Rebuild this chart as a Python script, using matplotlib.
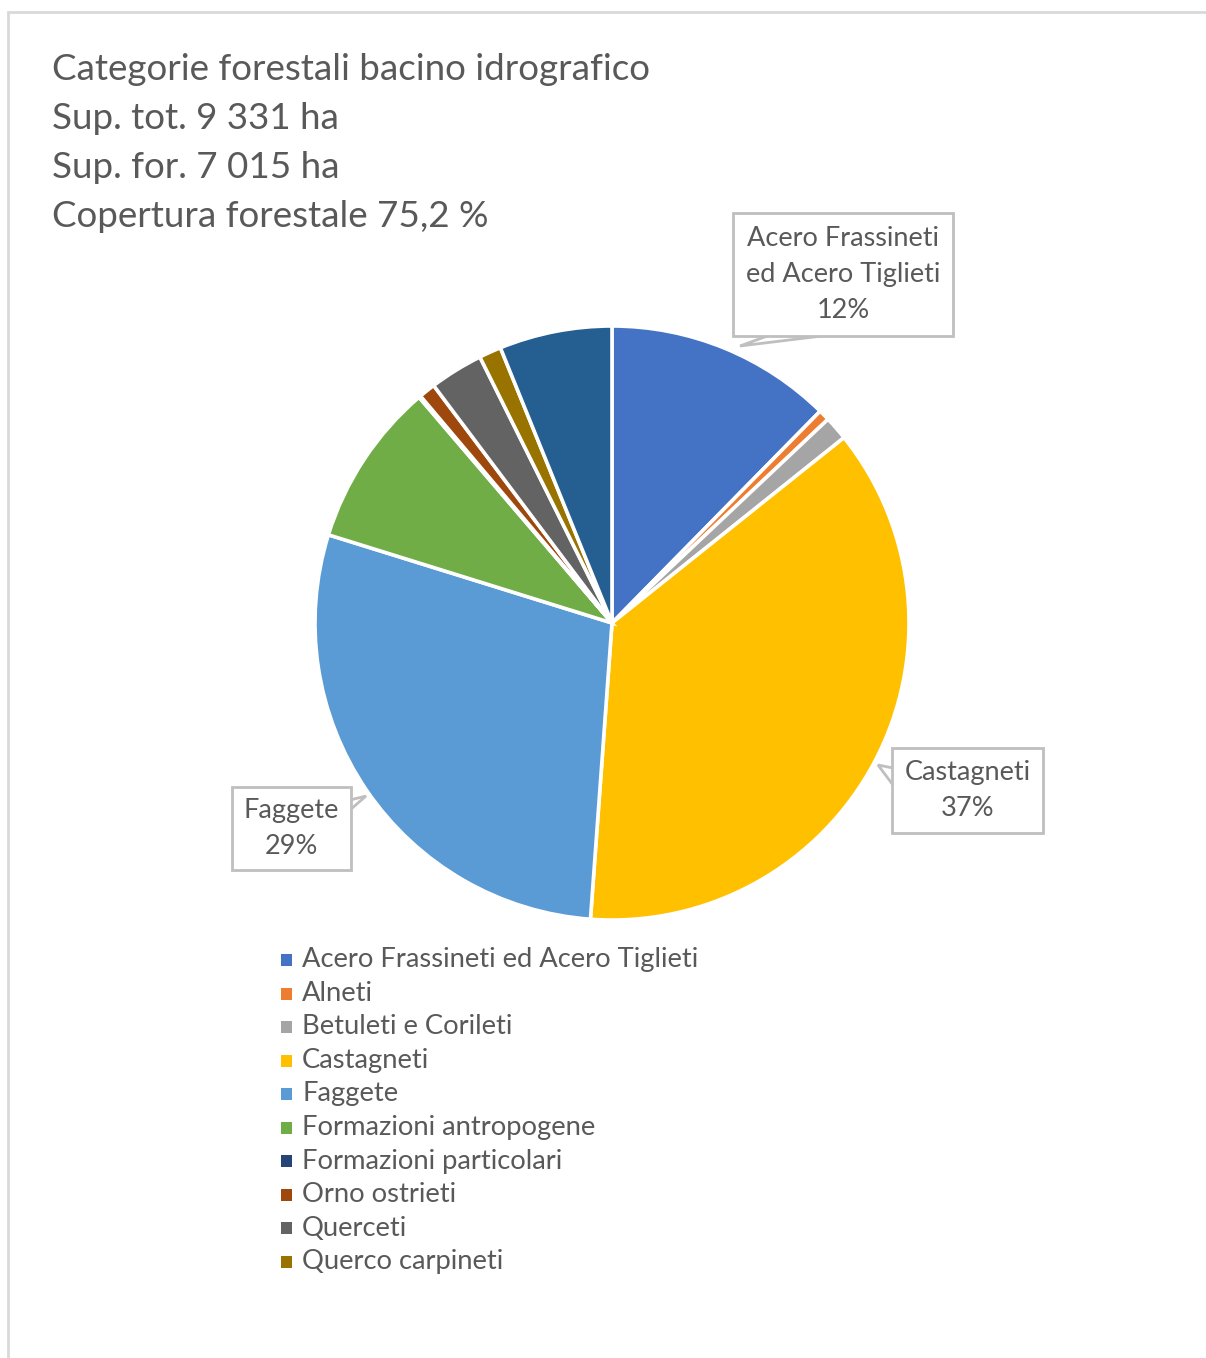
import numpy as np
import matplotlib.pyplot as plt
from matplotlib.patches import Rectangle, Polygon

plt.rcParams['font.family'] = ['Lato', 'DejaVu Sans']

# data (percent of forest area), clockwise from 12 o'clock
categories = ["Acero Frassineti ed Acero Tiglieti", "Alneti", "Betuleti e Corileti",
              "Castagneti", "Faggete", "Formazioni antropogene",
              "Formazioni particolari", "Orno ostrieti", "Querceti",
              "Querco carpineti", ""]
values = [12.3, 0.6, 1.3, 36.7, 28.5, 8.9, 0.1, 0.9, 2.9, 1.2, 6.1]
colors = ["#4472C4", "#ED7D31", "#A5A5A5", "#FFC000", "#5B9BD5", "#70AD47",
          "#264478", "#9E480E", "#636363", "#997300", "#255E91"]
title_lines = ["Categorie forestali bacino idrografico", "Sup. tot. 9 331 ha",
               "Sup. for. 7 015 ha", "Copertura forestale 75,2 %"]
callouts = {0: "Acero Frassineti\ned Acero Tiglieti\n12%", 3: "Castagneti\n37%", 4: "Faggete\n29%"}

W, H = 1206, 1358
fig = plt.figure(figsize=(W / 100, H / 100), dpi=100)
txt_col = "#595959"

# outer frame
fig.add_artist(Rectangle((8 / W, -0.01), 1.02, 1 - 12 / H + 0.01, transform=fig.transFigure,
                         fill=False, edgecolor="#D9D9D9", linewidth=2))

# pie axes
cx, cy, r = 612, 623, 297
ax = fig.add_axes([(cx - r) / W, 1 - (cy + r) / H, 2 * r / W, 2 * r / H])
wedges, _ = ax.pie(values, colors=colors, startangle=90, counterclock=False,
                   wedgeprops=dict(edgecolor="white", linewidth=2.6))
ax.set_xlim(-1, 1)
ax.set_ylim(-1, 1)
ax.set_aspect("equal")
ax.axis("off")

# title block
for i, line in enumerate(title_lines):
    fig.text(52 / W, 1 - (70 + 48.7 * i) / H, line, fontsize=26.5, color=txt_col,
             va="center", ha="left")


def px(x, y):
    return x / W, 1 - y / H


# callout boxes: (box x0, y0, x1, y1) in pixels, tail points
boxes = {0: (733, 213, 953, 336), 3: (892, 748, 1043, 833), 4: (232, 787, 351, 870)}
for idx, text in callouts.items():
    x0, y0, x1, y1 = boxes[idx]
    fig.add_artist(Rectangle(px(x0, y1), (x1 - x0) / W, (y1 - y0) / H,
                             transform=fig.transFigure, facecolor="white",
                             edgecolor="#BFBFBF", linewidth=2, zorder=3))
    fig.text((x0 + x1) / 2 / W, 1 - (y0 + y1) / 2 / H, text, fontsize=19.5,
             color=txt_col, ha="center", va="center", linespacing=1.55, zorder=4)

# tails
tails = [[(770, 335), (740, 346), (830, 335)],
         [(893, 768), (878, 765), (893, 785)],
         [(350, 810), (366, 796), (350, 800)]]
for t in tails:
    fig.add_artist(Polygon([px(*p) for p in t], closed=False, transform=fig.transFigure,
                           facecolor="white", edgecolor="#BFBFBF", linewidth=2, zorder=2))

# legend (first ten categories)
for i in range(10):
    y = 960 + 33.5 * i
    fig.add_artist(Rectangle(px(281, y + 6), 11 / W, 12 / H, transform=fig.transFigure,
                             facecolor=colors[i], edgecolor="none"))
    fig.text(302 / W, 1 - y / H, categories[i], fontsize=19.7, color=txt_col,
             ha="left", va="center")

fig.savefig("out.png", dpi=100)
